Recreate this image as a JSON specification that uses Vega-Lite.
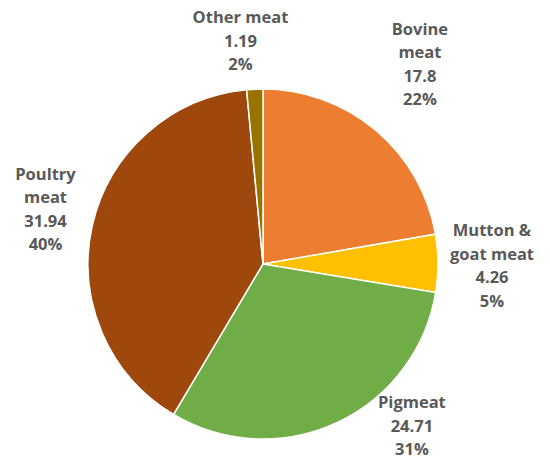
{
  "$schema": "https://vega.github.io/schema/vega-lite/v6.json",
  "width": 526,
  "height": 404,
  "autosize": {"type": "none"},
  "padding": {"top": 62, "left": 0, "right": 24, "bottom": 0},
  "background": "white",
  "view": {"stroke": null},
  "data": {
    "values": [
      {"idx": 1, "name": "Bovine meat", "value": 17.8, "label": ["Bovine", "meat", "17.8", "22%"]},
      {"idx": 2, "name": "Mutton & goat meat", "value": 4.26, "label": ["Mutton &", "goat meat", "4.26", "5%"]},
      {"idx": 3, "name": "Pigmeat", "value": 24.71, "label": ["Pigmeat", "24.71", "31%"]},
      {"idx": 4, "name": "Poultry meat", "value": 31.94, "label": ["Poultry", "meat", "31.94", "40%"]},
      {"idx": 5, "name": "Other meat", "value": 1.19, "label": ["Other meat", "1.19", "2%"]}
    ]
  },
  "encoding": {
    "theta": {"field": "value", "type": "quantitative", "stack": true},
    "order": {"field": "idx", "type": "quantitative"}
  },
  "layer": [
    {
      "mark": {"type": "arc", "outerRadius": 175, "stroke": "white", "strokeWidth": 1.5},
      "encoding": {
        "color": {
          "field": "name",
          "type": "nominal",
          "scale": {
            "domain": ["Bovine meat", "Mutton & goat meat", "Pigmeat", "Poultry meat", "Other meat"],
            "range": ["#ED7D31", "#FFC000", "#70AD47", "#9E480E", "#997300"]
          },
          "legend": null
        }
      }
    },
    {
      "mark": {"type": "text", "radius": 225, "dx": 12, "dy": -62, "font": "Open Sans", "fontWeight": "bold", "fontSize": 16.5, "lineHeight": 23.5, "fill": "#595959", "align": "center", "baseline": "middle"},
      "encoding": {
        "text": {"condition": {"test": "datum.name === 'Bovine meat'", "field": "label"}, "value": ""}
      }
    },
    {
      "mark": {"type": "text", "radius": 225, "dx": 4, "dy": -32, "font": "Open Sans", "fontWeight": "bold", "fontSize": 16.5, "lineHeight": 23.5, "fill": "#595959", "align": "center", "baseline": "middle"},
      "encoding": {
        "text": {"condition": {"test": "datum.name === 'Mutton & goat meat'", "field": "label"}, "value": ""}
      }
    },
    {
      "mark": {"type": "text", "radius": 225, "dx": 54, "dy": -65, "font": "Open Sans", "fontWeight": "bold", "fontSize": 16.5, "lineHeight": 23.5, "fill": "#595959", "align": "center", "baseline": "middle"},
      "encoding": {
        "text": {"condition": {"test": "datum.name === 'Pigmeat'", "field": "label"}, "value": ""}
      }
    },
    {
      "mark": {"type": "text", "radius": 225, "dx": 2, "dy": -40, "font": "Open Sans", "fontWeight": "bold", "fontSize": 16.5, "lineHeight": 23.5, "fill": "#595959", "align": "center", "baseline": "middle"},
      "encoding": {
        "text": {"condition": {"test": "datum.name === 'Poultry meat'", "field": "label"}, "value": ""}
      }
    },
    {
      "mark": {"type": "text", "radius": 225, "dx": -12, "dy": -21, "font": "Open Sans", "fontWeight": "bold", "fontSize": 16.5, "lineHeight": 23.5, "fill": "#595959", "align": "center", "baseline": "middle"},
      "encoding": {
        "text": {"condition": {"test": "datum.name === 'Other meat'", "field": "label"}, "value": ""}
      }
    }
  ]
}
